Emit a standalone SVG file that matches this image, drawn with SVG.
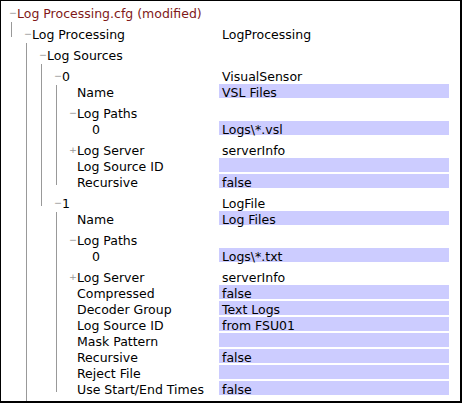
<svg xmlns="http://www.w3.org/2000/svg" width="462" height="403" viewBox="0 0 462 403">
<style>
text{font-family:"DejaVu Sans","Liberation Sans",sans-serif;font-size:12.5px;fill:#000}
.hdr{fill:#801818}
.tog{font-size:9.5px;fill:#999}
.bar{fill:#ccccff}
.guide{stroke:#999;stroke-width:1;fill:none}
</style>
<rect x="0" y="0" width="462" height="403" fill="#000"/>
<rect x="1" y="1" width="459" height="400" fill="#fff"/>
<g id="connectors">
<path class="guide" d="M11.5 22V37M26.5 43V401M41.5 64V206M56.5 85V185M56.5 212V392"/>
</g>
<g id="n-root"><text class="tog" x="9" y="15.5">−</text><text class="hdr" x="17" y="17.5">Log Processing.cfg (modified)</text></g>
<g id="n-logprocessing"><text class="tog" x="24" y="36.5">−</text><text x="32" y="38.5">Log Processing</text><text x="222" y="38.5">LogProcessing</text></g>
<g id="n-logsources"><text class="tog" x="39" y="57.5">−</text><text x="47" y="59.5">Log Sources</text></g>
<g id="n-src0"><text class="tog" x="54" y="78.5">−</text><text x="62" y="80.5">0</text><text x="222" y="80.5">VisualSensor</text></g>
<g id="n-src0-name"><rect class="bar" x="219" y="84" width="230" height="14"/><text x="77" y="96.5">Name</text><text x="222" y="96.5">VSL Files</text></g>
<g id="n-src0-logpaths"><text class="tog" x="69" y="115.5">−</text><text x="77" y="117.5">Log Paths</text></g>
<g id="n-src0-path0"><rect class="bar" x="219" y="121" width="230" height="14"/><text x="92" y="133.5">0</text><text x="222" y="133.5">Logs\*.vsl</text></g>
<g id="n-src0-logserver"><text class="tog" x="69" y="152.5">+</text><text x="77" y="154.5">Log Server</text><text x="222" y="154.5">serverInfo</text></g>
<g id="n-src0-sourceid"><rect class="bar" x="219" y="158" width="230" height="14"/><text x="77" y="170.5">Log Source ID</text></g>
<g id="n-src0-recursive"><rect class="bar" x="219" y="174" width="230" height="14"/><text x="77" y="186.5">Recursive</text><text x="222" y="186.5">false</text></g>
<g id="n-src1"><text class="tog" x="54" y="205.5">−</text><text x="62" y="207.5">1</text><text x="222" y="207.5">LogFile</text></g>
<g id="n-src1-name"><rect class="bar" x="219" y="211" width="230" height="14"/><text x="77" y="223.5">Name</text><text x="222" y="223.5">Log Files</text></g>
<g id="n-src1-logpaths"><text class="tog" x="69" y="242.5">−</text><text x="77" y="244.5">Log Paths</text></g>
<g id="n-src1-path0"><rect class="bar" x="219" y="248" width="230" height="14"/><text x="92" y="260.5">0</text><text x="222" y="260.5">Logs\*.txt</text></g>
<g id="n-src1-logserver"><text class="tog" x="69" y="279.5">+</text><text x="77" y="281.5">Log Server</text><text x="222" y="281.5">serverInfo</text></g>
<g id="n-src1-compressed"><rect class="bar" x="219" y="285" width="230" height="14"/><text x="77" y="297.5">Compressed</text><text x="222" y="297.5">false</text></g>
<g id="n-src1-decoder"><rect class="bar" x="219" y="301" width="230" height="14"/><text x="77" y="313.5">Decoder Group</text><text x="222" y="313.5">Text Logs</text></g>
<g id="n-src1-sourceid"><rect class="bar" x="219" y="317" width="230" height="14"/><text x="77" y="329.5">Log Source ID</text><text x="222" y="329.5">from FSU01</text></g>
<g id="n-src1-mask"><rect class="bar" x="219" y="333" width="230" height="14"/><text x="77" y="345.5">Mask Pattern</text></g>
<g id="n-src1-recursive"><rect class="bar" x="219" y="349" width="230" height="14"/><text x="77" y="361.5">Recursive</text><text x="222" y="361.5">false</text></g>
<g id="n-src1-reject"><rect class="bar" x="219" y="365" width="230" height="14"/><text x="77" y="377.5">Reject File</text></g>
<g id="n-src1-times"><rect class="bar" x="219" y="381" width="230" height="14"/><text x="77" y="393.5">Use Start/End Times</text><text x="222" y="393.5">false</text></g>
</svg>
